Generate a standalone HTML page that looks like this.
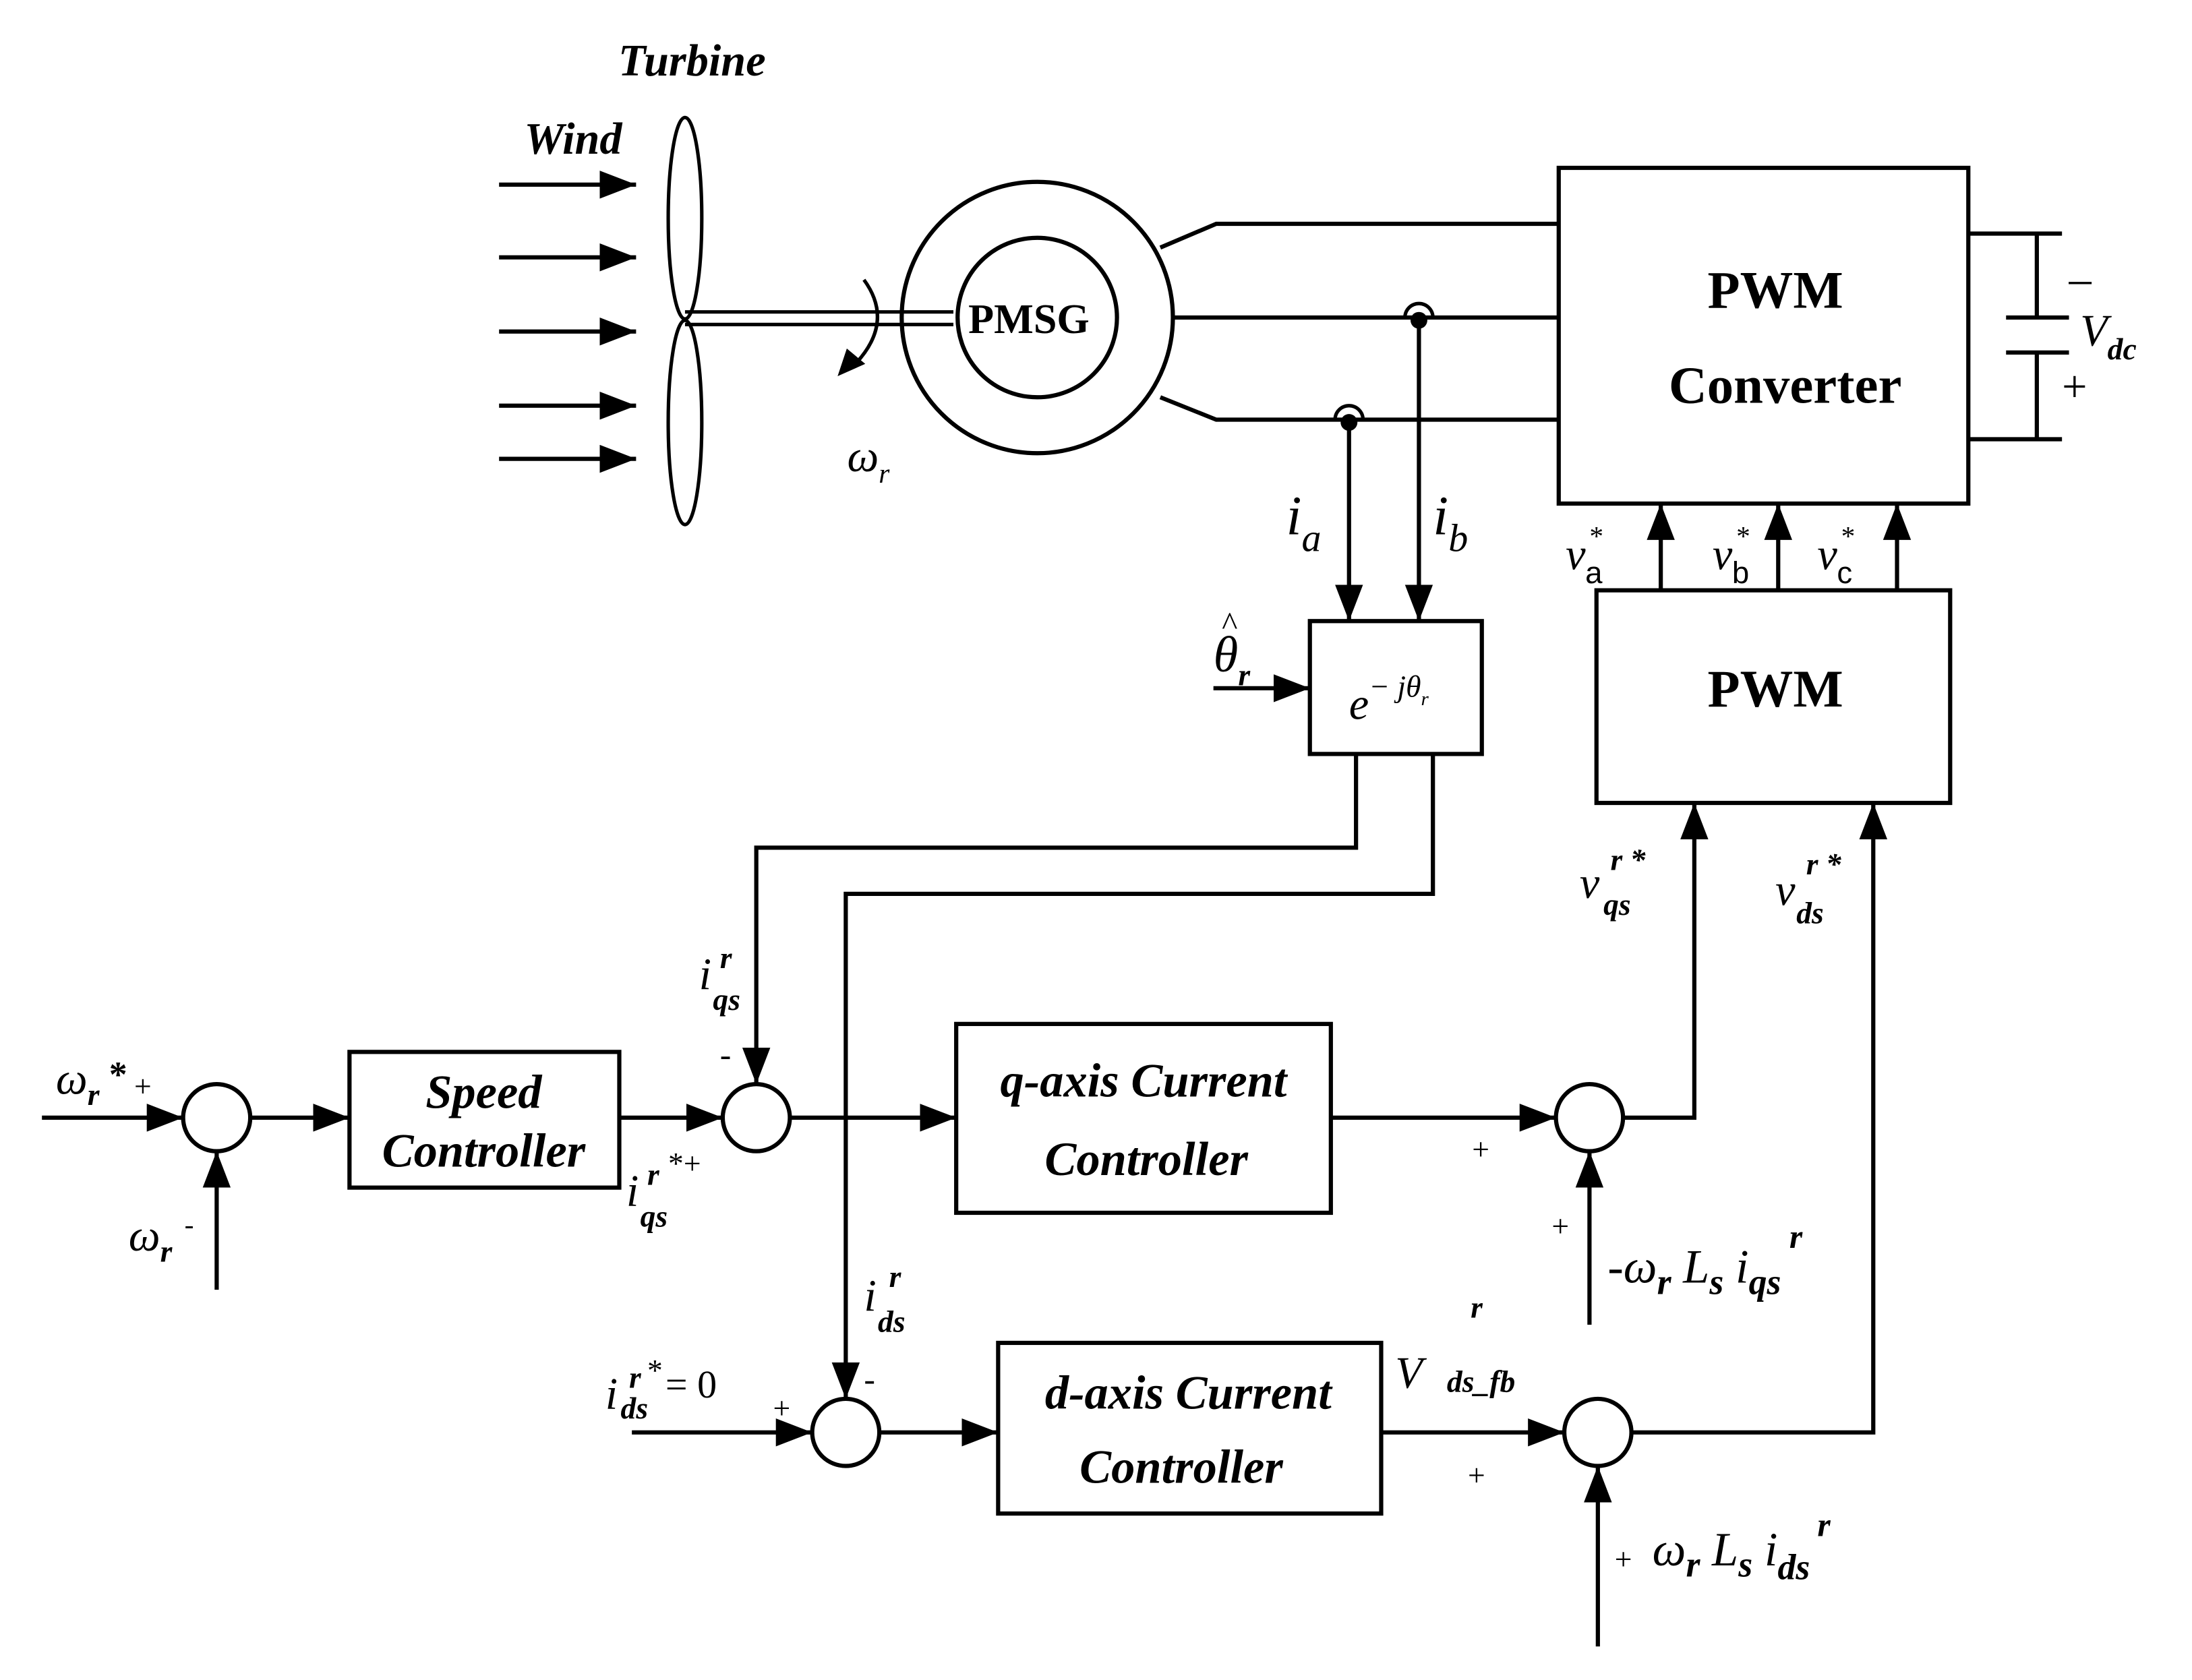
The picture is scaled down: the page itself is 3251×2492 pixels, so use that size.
<!DOCTYPE html>
<html><head><meta charset="utf-8"><style>
html,body{margin:0;padding:0;background:#fff;}
svg{display:block;}
text{font-family:"Liberation Serif",serif;fill:#000;}
.b{font-weight:bold;}
.i{font-style:italic;}
.s{font-family:"Liberation Sans",sans-serif;}
</style></head><body>
<svg width="3251" height="2492" viewBox="0 -2 1568 1201" preserveAspectRatio="none" xmlns="http://www.w3.org/2000/svg">
<defs>
<marker id="A" markerWidth="26" markerHeight="20" refX="26" refY="10" orient="auto" markerUnits="userSpaceOnUse"><path d="M0,0 L26,10 L0,20z" fill="#000"/></marker>
</defs>
<g stroke="#000" stroke-width="3" fill="none">
<line x1="357" y1="130" x2="455" y2="130" marker-end="url(#A)"/>
<line x1="357" y1="182" x2="455" y2="182" marker-end="url(#A)"/>
<line x1="357" y1="235" x2="455" y2="235" marker-end="url(#A)"/>
<line x1="357" y1="288" x2="455" y2="288" marker-end="url(#A)"/>
<line x1="357" y1="326" x2="455" y2="326" marker-end="url(#A)"/>
<ellipse cx="490" cy="154" rx="12" ry="72" stroke-width="2.5"/>
<ellipse cx="490" cy="300" rx="12" ry="73" stroke-width="2.5"/>
<line x1="490" y1="221" x2="682" y2="221" stroke-width="2.5"/>
<line x1="490" y1="230" x2="682" y2="230" stroke-width="2.5"/>
<path d="M618,198 Q640,228 612,258" stroke-width="2.5"/>
<path d="M600,266 L606,248 L618,258z" fill="#000" stroke-width="1"/>
<circle cx="742" cy="225" r="97"/>
<circle cx="742" cy="225" r="57"/>
<polyline points="830,175 870,158 1115,158"/>
<line x1="840" y1="225" x2="1115" y2="225"/>
<polyline points="830,282 870,298 1115,298"/>
<path d="M1005,225 A10,10 0 0 1 1025,225" stroke-width="2.5"/>
<path d="M955,298 A10,10 0 0 1 975,298" stroke-width="2.5"/>
<rect x="1115" y="118" width="293" height="240"/>
<line x1="1408" y1="165" x2="1475" y2="165"/>
<line x1="1408" y1="312" x2="1475" y2="312"/>
<line x1="1457" y1="165" x2="1457" y2="225"/>
<line x1="1435" y1="225" x2="1480" y2="225"/>
<line x1="1435" y1="250" x2="1480" y2="250"/>
<line x1="1457" y1="250" x2="1457" y2="312"/>
<rect x="1142" y="420" width="253" height="152"/>
<line x1="1188" y1="420" x2="1188" y2="358" marker-end="url(#A)"/>
<line x1="1272" y1="420" x2="1272" y2="358" marker-end="url(#A)"/>
<line x1="1357" y1="420" x2="1357" y2="358" marker-end="url(#A)"/>
<rect x="937" y="442" width="123" height="95"/>
<line x1="965" y1="298" x2="965" y2="442" marker-end="url(#A)"/>
<line x1="1015" y1="225" x2="1015" y2="442" marker-end="url(#A)"/>
<line x1="868" y1="490" x2="937" y2="490" marker-end="url(#A)"/>
<polyline points="970,537 970,604 541,604 541,773" marker-end="url(#A)"/>
<polyline points="1025,537 1025,637 605,637 605,998" marker-end="url(#A)"/>
<line x1="30" y1="797" x2="131" y2="797" marker-end="url(#A)"/>
<circle cx="155" cy="797" r="24"/>
<line x1="155" y1="920" x2="155" y2="821" marker-end="url(#A)"/>
<line x1="179" y1="797" x2="250" y2="797" marker-end="url(#A)"/>
<rect x="250" y="750" width="193" height="97"/>
<line x1="443" y1="797" x2="517" y2="797" marker-end="url(#A)"/>
<circle cx="541" cy="797" r="24"/>
<line x1="565" y1="797" x2="684" y2="797" marker-end="url(#A)"/>
<rect x="684" y="730" width="268" height="135"/>
<line x1="952" y1="797" x2="1113" y2="797" marker-end="url(#A)"/>
<circle cx="1137" cy="797" r="24"/>
<line x1="1137" y1="945" x2="1137" y2="821" marker-end="url(#A)"/>
<polyline points="1161,797 1212,797 1212,572" marker-end="url(#A)"/>
<line x1="452" y1="1022" x2="581" y2="1022" marker-end="url(#A)"/>
<circle cx="605" cy="1022" r="24"/>
<line x1="629" y1="1022" x2="714" y2="1022" marker-end="url(#A)"/>
<rect x="714" y="958" width="274" height="122"/>
<line x1="988" y1="1022" x2="1119" y2="1022" marker-end="url(#A)"/>
<circle cx="1143" cy="1022" r="24"/>
<line x1="1143" y1="1175" x2="1143" y2="1046" marker-end="url(#A)"/>
<polyline points="1167,1022 1340,1022 1340,572" marker-end="url(#A)"/>
</g>
<circle cx="1015" cy="227" r="6" fill="#000"/>
<circle cx="965" cy="300" r="6" fill="#000"/>
<text x="495" y="52" font-size="32" class="b i" text-anchor="middle">Turbine</text>
<text x="410" y="108" font-size="32" class="b i" text-anchor="middle">Wind</text>
<text x="736" y="236" font-size="30" class="b" text-anchor="middle">PMSG</text>
<text x="606" y="335" font-size="32" class="i">ω<tspan font-size="20" dy="8">r</tspan></text>
<text x="1270" y="218" font-size="38" class="b" text-anchor="middle">PWM</text>
<text x="1277" y="286" font-size="38" class="b" text-anchor="middle">Converter</text>
<text x="1480" y="208" font-size="32">–</text>
<text x="1488" y="245" font-size="32" class="i">V<tspan font-size="22" dy="10" class="b">dc</tspan></text>
<text x="1475" y="285" font-size="32">+</text>
<text x="1270" y="503" font-size="38" class="b" text-anchor="middle">PWM</text>
<text x="1120" y="405" font-size="32" class="i">v</text><text x="1137" y="388" font-size="20">*</text><text x="1134" y="415" font-size="22" class="s">a</text>
<text x="1225" y="405" font-size="32" class="i">v</text><text x="1242" y="388" font-size="20">*</text><text x="1239" y="415" font-size="22" class="s">b</text>
<text x="1300" y="405" font-size="32" class="i">v</text><text x="1317" y="388" font-size="20">*</text><text x="1314" y="415" font-size="22" class="s">c</text>
<text x="920" y="380" font-size="40" class="i">i<tspan font-size="28" dy="12">a</tspan></text>
<text x="1025" y="380" font-size="40" class="i">i<tspan font-size="28" dy="12">b</tspan></text>
<text x="868" y="478" font-size="36" class="i">θ<tspan font-size="22" dy="10" class="b">r</tspan></text>
<text x="874" y="452" font-size="24">^</text>
<text x="965" y="512" font-size="32" class="i">e<tspan font-size="22" dy="-16">− jθ</tspan><tspan font-size="14" dy="6">r</tspan></text>
<text x="346" y="790" font-size="34" class="b i" text-anchor="middle">Speed</text>
<text x="346" y="832" font-size="34" class="b i" text-anchor="middle">Controller</text>
<text x="818" y="782" font-size="34" class="b i" text-anchor="middle">q-axis Current</text>
<text x="820" y="838" font-size="34" class="b i" text-anchor="middle">Controller</text>
<text x="850" y="1005" font-size="34" class="b i" text-anchor="middle">d-axis Current</text>
<text x="845" y="1058" font-size="34" class="b i" text-anchor="middle">Controller</text>
<text x="40" y="780" font-size="32" class="i">ω<tspan font-size="22" dy="8" class="b">r</tspan></text>
<text x="78" y="775" font-size="26" class="b">*</text>
<text x="96" y="782" font-size="22">+</text>
<text x="92" y="892" font-size="32" class="i">ω<tspan font-size="22" dy="8" class="b">r</tspan></text>
<text x="132" y="880" font-size="20">-</text>
<text x="500" y="705" font-size="32" class="i">i</text><text x="515" y="690" font-size="22" class="b i">r</text><text x="510" y="720" font-size="22" class="b i">qs</text>
<text x="515" y="760" font-size="24">-</text>
<text x="448" y="860" font-size="32" class="i">i</text><text x="463" y="845" font-size="22" class="b i">r</text><text x="478" y="837" font-size="22">*+</text><text x="458" y="875" font-size="22" class="b i">qs</text>
<text x="618" y="935" font-size="32" class="i">i</text><text x="636" y="918" font-size="22" class="b i">r</text><text x="628" y="950" font-size="22" class="b i">ds</text>
<text x="433" y="1005" font-size="32" class="i">i</text><text x="450" y="990" font-size="22" class="b i">r</text><text x="463" y="985" font-size="22">*</text><text x="444" y="1012" font-size="22" class="b i">ds</text>
<text x="476" y="997" font-size="28">= 0</text>
<text x="553" y="1012" font-size="22">+</text>
<text x="618" y="992" font-size="24">-</text>
<text x="1053" y="827" font-size="22">+</text>
<text x="1110" y="882" font-size="22">+</text>
<text x="1150" y="915" font-size="34">-<tspan class="i">ω</tspan><tspan font-size="26" dy="8" class="b i">r</tspan><tspan dy="-8" class="i"> L</tspan><tspan font-size="26" dy="8" class="b i">s</tspan><tspan dy="-8" class="i"> i</tspan><tspan font-size="26" dy="8" class="b i">qs</tspan></text>
<text x="1280" y="890" font-size="24" class="b i">r</text>
<text x="1050" y="1060" font-size="22">+</text>
<text x="1155" y="1120" font-size="22">+</text>
<text x="1182" y="1117" font-size="34" class="i">ω<tspan font-size="26" dy="8" class="b">r</tspan><tspan dy="-8"> L</tspan><tspan font-size="26" dy="8" class="b">s</tspan><tspan dy="-8"> i</tspan><tspan font-size="26" dy="10" class="b">ds</tspan></text>
<text x="1300" y="1096" font-size="24" class="b i">r</text>
<text x="998" y="990" font-size="32" class="i">V</text>
<text x="1052" y="940" font-size="22" class="b i">r</text>
<text x="1035" y="993" font-size="22" class="b i">ds_fb</text>
<text x="1130" y="640" font-size="32" class="i">v</text><text x="1152" y="620" font-size="22" class="b i">r *</text><text x="1147" y="652" font-size="22" class="b i">qs</text>
<text x="1270" y="645" font-size="32" class="i">v</text><text x="1292" y="623" font-size="22" class="b i">r *</text><text x="1285" y="658" font-size="22" class="b i">ds</text>
</svg>
</body></html>
